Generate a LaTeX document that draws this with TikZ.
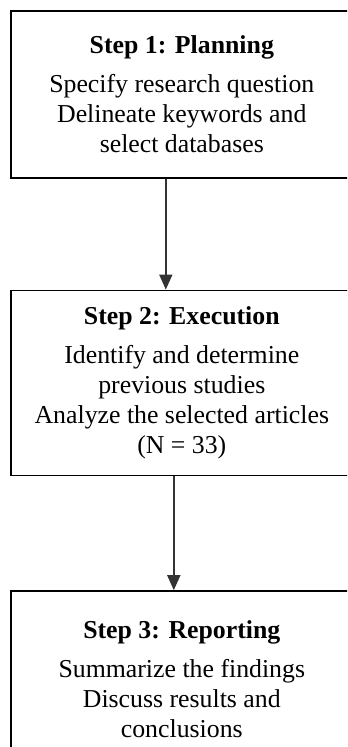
\documentclass[tikz,border=0pt]{standalone}
\usepackage{fontspec}
\setmainfont{Liberation Serif}
\usetikzlibrary{positioning,arrows.meta}

\tikzset{
  stepbox/.style={draw=black,line width=0.8pt,minimum width=171pt,inner sep=0pt},
  steptext/.style={align=center,inner sep=0pt,font=\fontsize{12.9pt}{15pt}\selectfont},
  flow/.style={draw=black!80,line width=0.8pt,-{Triangle[width=6.5pt,length=7.5pt]}}
}

\begin{document}
\begin{tikzpicture}[x=0.5pt,y=-0.5pt]
    \clip (0,0) rectangle (347,747);
    %the three boxes
    \node[stepbox,minimum height=83.5pt,anchor=north west] (plan) at (10,10) {};
    \node[stepbox,minimum height=92.5pt,below=55.5pt of plan] (exec) {};
    \node[stepbox,minimum height=86.5pt,below=57pt of exec] (report) {};
    %texts inside
    \node[steptext,below=12.5pt of plan.north] (plantext)
        {\textbf{Step 1: Planning}\\[4.5pt]
         Specify research question\\ Delineate keywords and\\ select databases};
    \node[steptext,below=8.5pt of exec.north] (exectext)
        {\textbf{Step 2: Execution}\\[4.5pt]
         Identify and determine\\ previous studies\\ Analyze the selected articles\\ (N = 33)};
    \node[steptext,below=15pt of report.north] (reporttext)
        {\textbf{Step 3: Reporting}\\[4.5pt]
         Summarize the findings\\ Discuss results and\\ conclusions};
    %arrows
    \draw[flow] ([xshift=-8pt]plan.south) -- ([xshift=-8pt]exec.north);
    \draw[flow] ([xshift=-4pt]exec.south) -- ([xshift=-4pt]report.north);
\end{tikzpicture}
\end{document}
